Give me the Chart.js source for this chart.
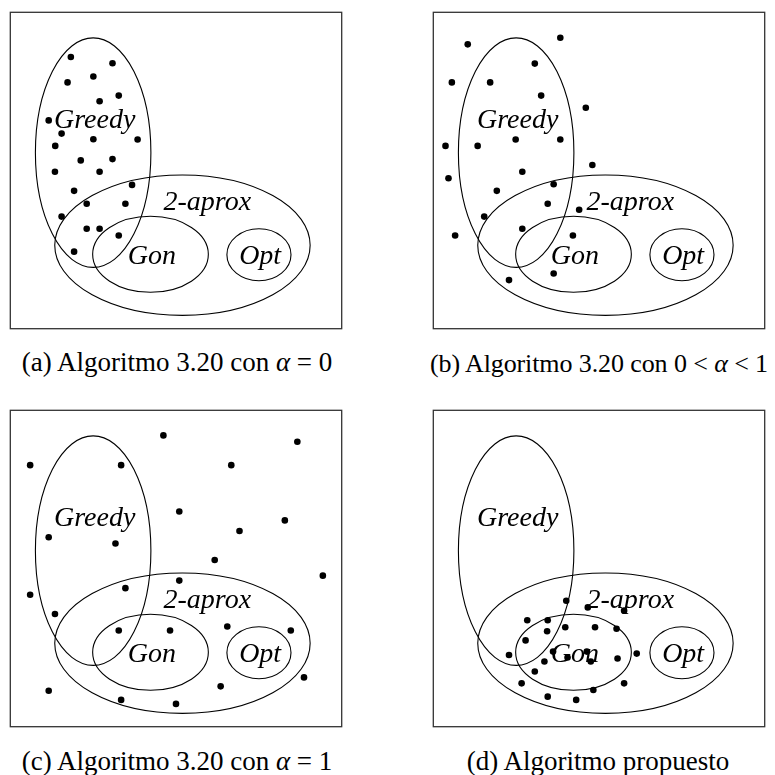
<!DOCTYPE html>
<html>
<head>
<meta charset="utf-8">
<script src="https://cdn.jsdelivr.net/npm/chart.js@4.4.1/dist/chart.umd.min.js"></script>
<style>
  html, body { margin: 0; padding: 0; background: #fff; }
  body { width: 775px; height: 775px; position: relative; overflow: hidden; }
  canvas { position: absolute; }
  .cap {
    position: absolute; width: 440px; text-align: center; white-space: nowrap;
    font-family: "Liberation Serif", "Times New Roman", serif; font-size: 27px;
    line-height: 27px; color: #000;
  }
  .cap.ancho { font-size: 26px; letter-spacing: -0.1px; }
</style>
</head>
<body>
<canvas id="panelA" width="338" height="323" style="left:7px;top:9px"></canvas>
<canvas id="panelB" width="338" height="323" style="left:430px;top:9px"></canvas>
<canvas id="panelC" width="338" height="323" style="left:7px;top:407px"></canvas>
<canvas id="panelD" width="338" height="323" style="left:430px;top:407px"></canvas>

<div class="cap" style="left:-43px;top:349px">(a) Algoritmo 3.20 con <i>α</i> = 0</div>
<div class="cap ancho" style="left:379px;top:350px">(b) Algoritmo 3.20 con 0 &lt; <i>α</i> &lt; 1</div>
<div class="cap" style="left:-43px;top:748px">(c) Algoritmo 3.20 con <i>α</i> = 1</div>
<div class="cap" style="left:378px;top:748px">(d) Algoritmo propuesto</div>

<script>
// Plane extent of each panel (x to the right, y downwards)
const X_MAX = 334;
const Y_MAX = 319;

// Sets drawn as ellipses: name, centre and half-axes in plane units
const conjuntos = ['Greedy', '2-aprox', 'Gon', 'Opt'];
const elipseCx = [83.5, 173.5, 141.3, 250.6];
const elipseCy = [141.5, 234.8, 244.0, 244.5];
const elipseRx = [58.2, 128.7, 58.3, 32.3];
const elipseRy = [115.7, 70.8, 38.3, 26.2];
// Label anchor (text centre x, baseline y)
const etiquetaX = [85, 198.5, 142.7, 251.8];
const etiquetaY = [117, 199, 254, 254];

// Solutions found by each method
const puntosA = [
  [61, 45], [103, 51.3], [57.7, 70.7], [83.7, 64.7], [109.3, 84], [90, 89.7],
  [38.7, 109], [51.7, 122.3], [45.3, 134.7], [83.7, 128], [128.3, 128.3],
  [71, 149.3], [103, 148], [45, 160.7], [90, 160.7], [64.3, 180], [122.7, 174],
  [77, 193], [116, 193], [51.7, 206], [77, 218.3], [90, 218.3], [109.3, 225],
  [64.3, 241.3]
];
const puntosB = [
  [34.7, 32.3], [128, 25.7], [102.3, 51.7], [18.7, 70.7], [57.3, 70.7],
  [108.7, 84], [153.7, 96.3], [12.3, 134.7], [44.7, 134.7], [83, 128.3],
  [128, 128.3], [160.3, 154], [15.3, 167.3], [89.7, 160.7], [64, 180],
  [121.3, 173.3], [115.3, 193], [147, 199], [51.3, 206], [89.7, 218.3],
  [22, 225], [140.7, 225], [76.3, 270], [121.3, 263.3]
];
const puntosC = [
  [20, 55.3], [111.7, 55.3], [154.3, 25.3], [222.7, 55.3], [289.3, 31.7],
  [170.3, 102], [276.7, 111], [231, 121.7], [38.7, 128], [106, 134.3],
  [206, 151], [170.3, 171.7], [315, 166.7], [20, 186], [116, 179.3],
  [45, 205.3], [109.3, 222], [161, 222], [218.7, 218], [282.7, 222],
  [296, 269.3], [212, 278.3], [38.7, 282.7], [111.7, 292], [167, 296]
];
const puntosD = [
  [134, 192], [155.7, 198.7], [192.3, 202], [94.7, 211.7], [115.3, 211.7],
  [114.7, 222.7], [133, 218.7], [163, 218.7], [184.7, 220.3], [93, 232],
  [76.3, 246.7], [120.7, 243.3], [135.3, 249.3], [154.7, 243.3], [158.7, 253.3],
  [112, 253.3], [185.7, 250.3], [205, 245.3], [102.3, 263.3], [89, 275.3],
  [192.3, 275.3], [161.3, 282], [115.3, 288.7], [144, 292]
];

// Frame, ellipses and set names, painted underneath the points
const diagrama = {
  id: 'diagrama',
  beforeDatasetsDraw(chart) {
    const { ctx, chartArea: a, scales: { x, y } } = chart;
    ctx.save();
    ctx.strokeStyle = '#000';
    ctx.lineWidth = 1.1;
    conjuntos.forEach((nombre, i) => {
      const cx = x.getPixelForValue(elipseCx[i]);
      const cy = y.getPixelForValue(elipseCy[i]);
      const rx = Math.abs(x.getPixelForValue(elipseCx[i] + elipseRx[i]) - cx);
      const ry = Math.abs(y.getPixelForValue(elipseCy[i] + elipseRy[i]) - cy);
      ctx.beginPath();
      ctx.ellipse(cx, cy, rx, ry, 0, 0, Math.PI * 2);
      ctx.stroke();
    });
    ctx.fillStyle = '#000';
    ctx.font = 'italic 28px "Liberation Serif", serif';
    ctx.textAlign = 'center';
    ctx.textBaseline = 'alphabetic';
    conjuntos.forEach((nombre, i) => {
      ctx.fillText(nombre, x.getPixelForValue(etiquetaX[i]), y.getPixelForValue(etiquetaY[i]));
    });
    ctx.strokeStyle = '#333';
    ctx.lineWidth = 1.3;
    ctx.strokeRect(a.left, a.top, a.width, a.height);
    ctx.restore();
  }
};

function panel(id, puntos) {
  new Chart(document.getElementById(id), {
    type: 'scatter',
    data: {
      datasets: [{
        data: puntos.map(([px, py]) => ({ x: px, y: py })),
        backgroundColor: '#000',
        borderWidth: 0,
        pointRadius: 3.3,
        pointHoverRadius: 3.3,
        clip: false
      }]
    },
    options: {
      responsive: false,
      animation: false,
      events: [],
      layout: { padding: 2 },
      plugins: { legend: { display: false }, tooltip: { enabled: false } },
      scales: {
        x: { type: 'linear', min: 0, max: X_MAX, display: false },
        y: { type: 'linear', min: 0, max: Y_MAX, reverse: true, display: false }
      }
    },
    plugins: [diagrama]
  });
}

panel('panelA', puntosA);
panel('panelB', puntosB);
panel('panelC', puntosC);
panel('panelD', puntosD);
</script>
</body>
</html>
